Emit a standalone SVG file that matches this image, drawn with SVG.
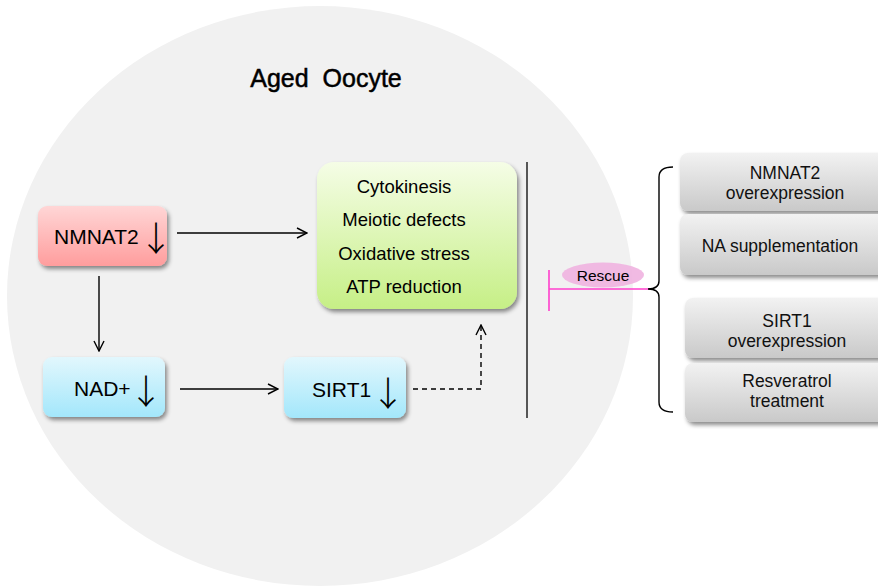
<svg xmlns="http://www.w3.org/2000/svg" width="878" height="587" viewBox="0 0 878 587">
  <defs>
    <linearGradient id="gPink" x1="0" y1="0" x2="0" y2="1">
      <stop offset="0" stop-color="#ffd6d6"/>
      <stop offset="1" stop-color="#ff9d9d"/>
    </linearGradient>
    <linearGradient id="gBlue" x1="0" y1="0" x2="0" y2="1">
      <stop offset="0" stop-color="#e2f7fd"/>
      <stop offset="1" stop-color="#a3e7fb"/>
    </linearGradient>
    <linearGradient id="gGreen" x1="0" y1="0" x2="0" y2="1">
      <stop offset="0" stop-color="#f5fde6"/>
      <stop offset="1" stop-color="#c6ef86"/>
    </linearGradient>
    <linearGradient id="gGrey" x1="0" y1="0" x2="0" y2="1">
      <stop offset="0" stop-color="#f2f2f2"/>
      <stop offset="1" stop-color="#c9c9c9"/>
    </linearGradient>
    <filter id="shadow" x="-10%" y="-10%" width="125%" height="135%">
      <feDropShadow dx="2" dy="3" stdDeviation="2" flood-color="#000" flood-opacity="0.45"/>
    </filter>
    <marker id="open" viewBox="0 0 12 12" refX="11" refY="6" markerWidth="12" markerHeight="12" markerUnits="userSpaceOnUse" orient="auto">
      <path d="M1,1 L11,6 L1,11" fill="none" stroke="#000" stroke-width="1.4"/>
    </marker>
  </defs>
  <style>
    text { font-family: "Liberation Sans", Arial, sans-serif; fill: #000; }
    .lbl { font-size: 21px; }
    .eff { font-size: 18.5px; text-anchor: middle; }
    .rx { font-size: 17.5px; text-anchor: middle; fill: #111; }
    .down { font-family: "Noto Sans CJK SC", sans-serif; font-size: 34px; font-weight: 300; text-anchor: middle; }
    .conn { stroke: #000; stroke-width: 1.4; fill: none; }
  </style>

  <!-- oocyte body -->
  <ellipse cx="320" cy="296" rx="313" ry="290" fill="#f1f1f1"/>
  <text x="326" y="87" font-size="25" text-anchor="middle" stroke="#000" stroke-width="0.5" xml:space="preserve" style="white-space:pre">Aged  Oocyte</text>

  <!-- connectors -->
  <g id="connectors">
    <line class="conn" x1="177" y1="233" x2="307" y2="233" marker-end="url(#open)"/>
    <line class="conn" x1="99" y1="276" x2="99" y2="351" marker-end="url(#open)"/>
    <line class="conn" x1="180" y1="389" x2="278" y2="389" marker-end="url(#open)"/>
    <polyline class="conn" points="413,389 481,389 481,325" stroke-dasharray="5 4" marker-end="url(#open)"/>
    <line x1="527" y1="162" x2="527" y2="418" stroke="#222" stroke-width="1.5"/>
  </g>

  <!-- NMNAT2 -->
  <g id="nmnat2">
    <rect x="38" y="206" width="129" height="60" rx="9" fill="url(#gPink)" filter="url(#shadow)"/>
    <text class="lbl" x="54" y="244">NMNAT2</text>
    <text class="down" x="156" y="251">↓</text>
  </g>

  <!-- NAD+ -->
  <g id="nad">
    <rect x="43" y="357" width="122" height="60" rx="9" fill="url(#gBlue)" filter="url(#shadow)"/>
    <text class="lbl" x="74" y="396">NAD+</text>
    <text class="down" x="146" y="404">↓</text>
  </g>

  <!-- SIRT1 -->
  <g id="sirt1">
    <rect x="284" y="357" width="122" height="61" rx="9" fill="url(#gBlue)" filter="url(#shadow)"/>
    <text class="lbl" x="312" y="397">SIRT1</text>
    <text class="down" x="388" y="406">↓</text>
  </g>

  <!-- effects -->
  <g id="effects">
    <rect x="317" y="162" width="200" height="147" rx="17" fill="url(#gGreen)" filter="url(#shadow)"/>
    <text class="eff" x="404" y="193">Cytokinesis</text>
    <text class="eff" x="404" y="226">Meiotic defects</text>
    <text class="eff" x="404" y="260">Oxidative stress</text>
    <text class="eff" x="404" y="293">ATP reduction</text>
  </g>

  <!-- rescue inhibition -->
  <g id="rescue">
    <line x1="549" y1="270" x2="549" y2="311" stroke="#ff3fcc" stroke-width="1.6"/>
    <line x1="549" y1="289" x2="650" y2="289" stroke="#ff3fcc" stroke-width="1.6"/>
    <ellipse cx="603" cy="275" rx="41" ry="12.5" fill="#f0b3e0" fill-opacity="0.9"/>
    <text x="603" y="281" font-size="15.5" text-anchor="middle" fill="#3a2038">Rescue</text>
  </g>

  <!-- brace grouping the treatments -->
  <g id="brace">
    <path d="M673,167 Q659,167 659,177 L659,281 Q659,289 648,289 Q659,289 659,297 L659,402 Q659,412 673,412" fill="none" stroke="#000" stroke-width="1.4"/>
  </g>

  <!-- treatments -->
  <g id="t-nmnat2">
    <rect x="680" y="153" width="210" height="58" rx="8" fill="url(#gGrey)" filter="url(#shadow)"/>
    <text class="rx" x="785" y="179">NMNAT2</text>
    <text class="rx" x="785" y="199">overexpression</text>
  </g>
  <g id="t-na">
    <rect x="680" y="214" width="210" height="61" rx="8" fill="url(#gGrey)" filter="url(#shadow)"/>
    <text class="rx" x="780" y="252">NA supplementation</text>
  </g>
  <g id="t-sirt1">
    <rect x="685" y="298" width="210" height="60" rx="8" fill="url(#gGrey)" filter="url(#shadow)"/>
    <text class="rx" x="787" y="327">SIRT1</text>
    <text class="rx" x="787" y="347">overexpression</text>
  </g>
  <g id="t-resv">
    <rect x="685" y="363" width="210" height="59" rx="8" fill="url(#gGrey)" filter="url(#shadow)"/>
    <text class="rx" x="787" y="387">Resveratrol</text>
    <text class="rx" x="787" y="407">treatment</text>
  </g>
</svg>
